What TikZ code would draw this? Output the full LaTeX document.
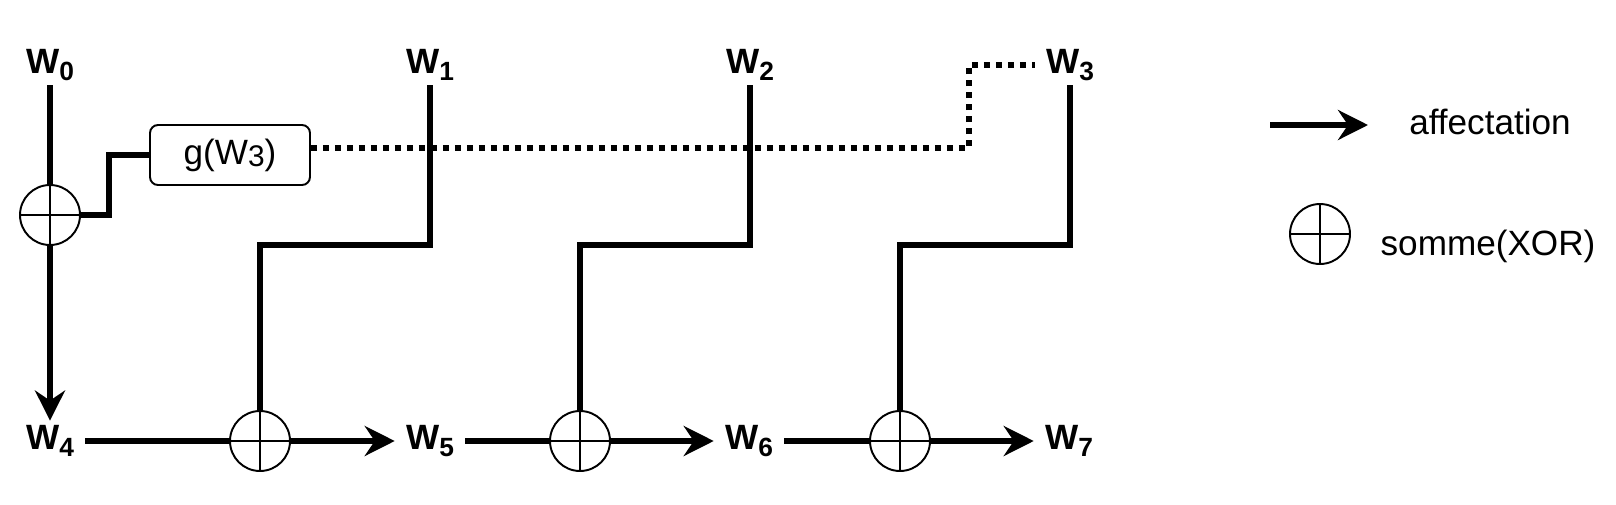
\documentclass[tikz,border=0pt]{standalone}
\usepackage{fontspec}
\setmainfont{Liberation Sans}
\usetikzlibrary{arrows.meta}
\newcommand\indice[3]{\raisebox{#1}{\fontsize{#2}{#2}\selectfont #3}}
\tikzset{
  wlab/.style={inner xsep=.22cm, inner ysep=.08cm, text depth=.16cm, font=\fontsize{20}{24}\selectfont\bfseries},
  txt/.style={font=\fontsize{20}{24}\selectfont},
  xor/.style={circle, draw, line width=1.1pt, minimum size=1.2cm, inner sep=0pt,
    path picture={\draw[line width=1.1pt] (path picture bounding box.north) -- (path picture bounding box.south)
      (path picture bounding box.west) -- (path picture bounding box.east);}},
  fil/.style={line width=3pt},
  fleche/.style={fil, -{Stealth[length=.6cm, width=.6cm, inset=.2cm]}},
  pointille/.style={fil, dash pattern=on .12cm off .12cm},
}
\begin{document}
\begin{tikzpicture}[x=0.02cm, y=-0.02cm]
\useasboundingbox (0,0) rectangle (1616,504);
\node[wlab] (w0) at (50,65) {W\indice{-4pt}{15pt}{0}};
\node[wlab] (w1) at (430,65) {W\indice{-4pt}{15pt}{1}};
\node[wlab] (w2) at (750,65) {W\indice{-4pt}{15pt}{2}};
\node[wlab] (w3) at (1070,65) {W\indice{-4pt}{15pt}{3}};
\node[wlab] (w4) at (50,441) {W\indice{-4pt}{15pt}{4}};
\node[wlab] (w5) at (430,441) {W\indice{-4pt}{15pt}{5}};
\node[wlab] (w6) at (749,441) {W\indice{-4pt}{15pt}{6}};
\node[wlab] (w7) at (1069,441) {W\indice{-4pt}{15pt}{7}};
\node[xor] (x0) at (50,215) {};
\node[xor] (x1) at (260,441) {};
\node[xor] (x2) at (580,441) {};
\node[xor] (x3) at (900,441) {};
\node[draw, rounded corners=.16cm, line width=1.1pt, minimum width=3.2cm, minimum height=1.2cm, txt] (g) at (230,155) {g(W\indice{-1.5pt}{17pt}{3})};
\draw[fil] (w0) -- (x0);
\draw[fleche] (x0) -- (w4);
\draw[fil] (x0.east) -- ++(28,0) |- (g);
\draw[pointille] ([yshift=.14cm]g.east) -- ++(658,0) |- (w3);
\draw[fil] (w4) -- (x1);
\draw[fleche] (x1) -- (w5);
\draw[fil] (w5) -- (x2);
\draw[fleche] (x2) -- (w6);
\draw[fil] (w6) -- (x3);
\draw[fleche] (x3) -- (w7);
\foreach \i in {1,2,3}
  \draw[fil] (w\i) -- ++(0,180) -| (x\i);
\coordinate (la) at (1270,125);
\coordinate (lb) at (1368,125);
\draw[fleche] (la) -- (lb);
\node[txt] (aff) at (1490,122) {affectation};
\node[xor] (lx) at (1320,234) {};
\node[txt] (som) at (1488,246) {somme(XOR)};
\end{tikzpicture}
\end{document}
